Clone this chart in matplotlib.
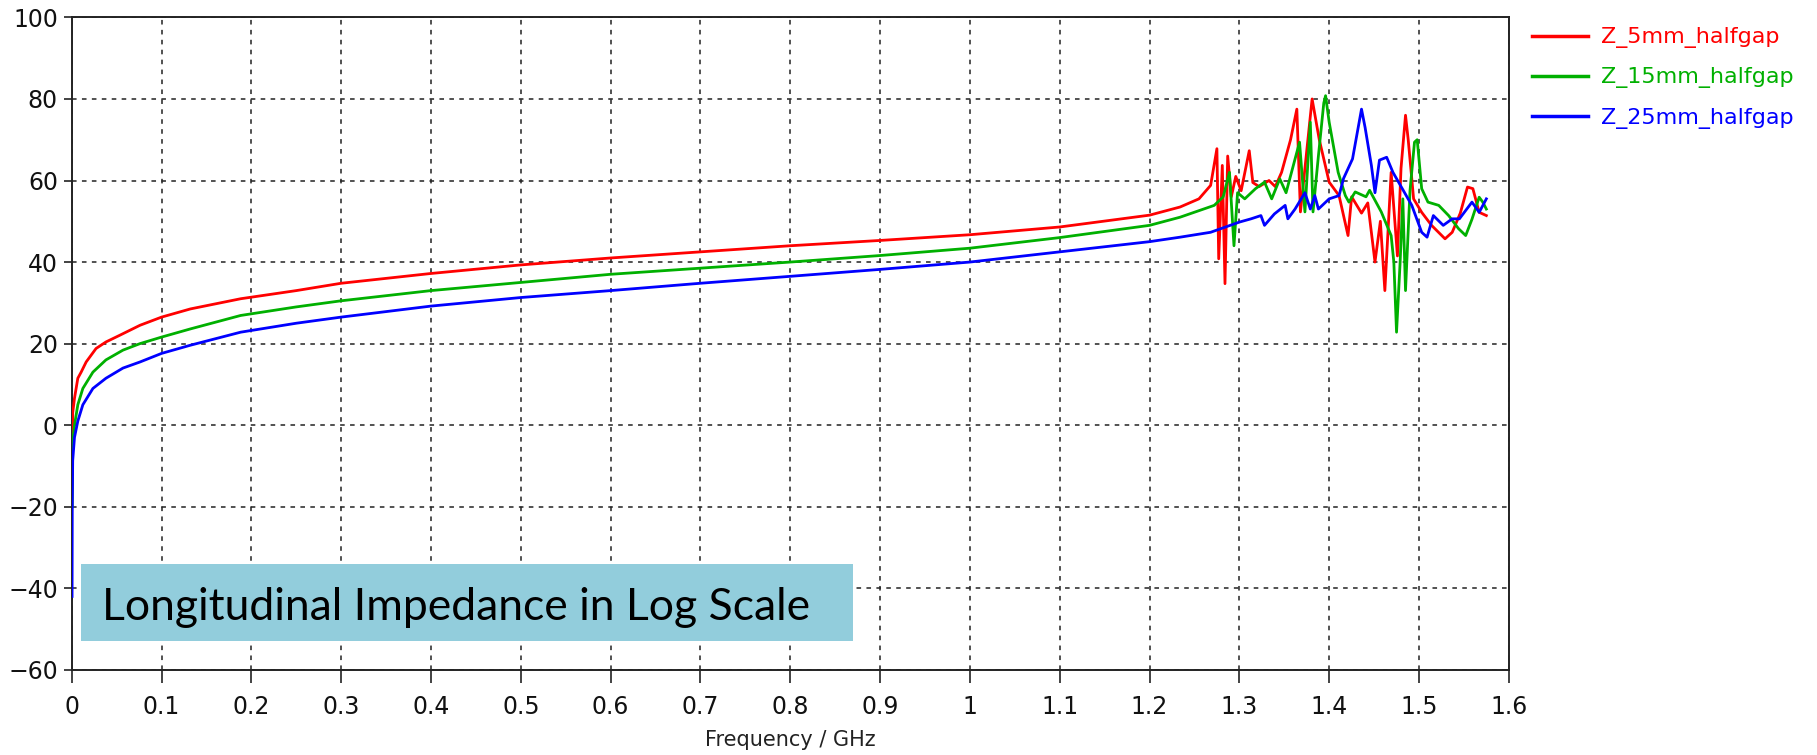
import matplotlib
matplotlib.use("Agg")
import matplotlib.pyplot as plt
from matplotlib.patches import Rectangle
from matplotlib.ticker import FormatStrFormatter

# ---------------- data ----------------
labels = ["Z_5mm_halfgap", "Z_15mm_halfgap", "Z_25mm_halfgap"]
colors = ["#ff0000", "#00b000", "#0000ff"]

f_red = [0.0004, 0.0007, 0.001, 0.003, 0.0067, 0.0104, 0.016, 0.027, 0.038, 0.053,
         0.076, 0.1, 0.132, 0.188, 0.25, 0.3, 0.4, 0.5, 0.6, 0.7, 0.8, 0.9, 1.0,
         1.1, 1.2, 1.234, 1.255, 1.268, 1.275, 1.277, 1.281, 1.284, 1.287, 1.291,
         1.296, 1.302, 1.311, 1.315, 1.322, 1.333, 1.340, 1.347, 1.357, 1.364,
         1.368, 1.381, 1.389, 1.400, 1.411, 1.421, 1.425, 1.436, 1.443, 1.451,
         1.457, 1.462, 1.469, 1.476, 1.480, 1.485, 1.488, 1.494, 1.503, 1.514,
         1.529, 1.537, 1.546, 1.554, 1.560, 1.567, 1.575]
z_red = [-12, -7, 3, 6.6, 11.5, 13, 15.5, 18.8, 20.4, 22,
         24.5, 26.5, 28.5, 31, 33, 34.8, 37.2, 39.3, 41, 42.5, 44, 45.3, 46.7,
         48.6, 51.5, 53.5, 55.5, 58.8, 67.8, 40.8, 63.7, 34.7, 66, 56,
         61, 57.5, 67.3, 59.5, 58.5, 60, 58.5, 62, 70, 77.5,
         52.3, 80, 70, 59.6, 56.3, 46.5, 56, 52, 54.5, 40,
         50, 33, 62, 41.5, 63, 76, 70, 55.5, 52.2, 49,
         45.7, 47.3, 52, 58.4, 58, 52.2, 51.4]

f_green = [0.0004, 0.0007, 0.001, 0.003, 0.0067, 0.0123, 0.0235, 0.038, 0.057, 0.076,
           0.1, 0.132, 0.188, 0.25, 0.3, 0.4, 0.5, 0.6, 0.7, 0.8, 0.9, 1.0, 1.1,
           1.2, 1.234, 1.272, 1.282, 1.289, 1.294, 1.298, 1.306, 1.318, 1.328,
           1.336, 1.345, 1.352, 1.367, 1.373, 1.379, 1.382, 1.388, 1.394, 1.396,
           1.400, 1.410, 1.418, 1.422, 1.429, 1.441, 1.445, 1.458, 1.469, 1.472,
           1.475, 1.479, 1.482, 1.485, 1.490, 1.495, 1.498, 1.503, 1.510, 1.522,
           1.533, 1.544, 1.552, 1.559, 1.567, 1.571, 1.575]
z_green = [-20, -12, -4, 0, 5, 9, 13, 16, 18.4, 20,
           21.6, 23.6, 26.9, 29, 30.5, 33, 35, 37, 38.5, 40, 41.6, 43.4, 46,
           49, 51, 53.9, 56, 62, 44, 57, 55.5, 58, 59.6,
           55.5, 60.4, 57, 69.4, 52.3, 74.3, 52.3, 66, 79, 80.8,
           74.3, 62, 56.3, 54.7, 57.2, 56, 57.6, 52.3, 46.5, 40,
           22.8, 40, 55.5, 33, 57.5, 69.4, 70, 58, 54.7, 53.9,
           51.4, 48.2, 46.5, 50.5, 55.9, 54.7, 53]

f_blue = [0.0003, 0.0005, 0.001, 0.003, 0.0067, 0.0123, 0.0235, 0.038, 0.057, 0.076,
          0.1, 0.132, 0.188, 0.25, 0.3, 0.4, 0.5, 0.6, 0.7, 0.8, 0.9, 1.0, 1.1,
          1.2, 1.234, 1.268, 1.300, 1.313, 1.324, 1.328, 1.339, 1.351, 1.354,
          1.362, 1.373, 1.379, 1.384, 1.388, 1.400, 1.411, 1.416, 1.426,
          1.436, 1.440, 1.447, 1.451, 1.456, 1.464, 1.471, 1.484, 1.492, 1.503,
          1.509, 1.516, 1.527, 1.537, 1.545, 1.559, 1.567, 1.575]
z_blue = [-42, -21, -8.7, -3, 1, 5, 9, 11.5, 14, 15.5,
          17.6, 19.6, 22.8, 25, 26.5, 29.2, 31.3, 33, 34.8, 36.5, 38.2, 40, 42.5,
          45, 46.1, 47.3, 49.8, 50.6, 51.4, 49, 51.8, 53.9, 50.6,
          53, 57, 53, 56.3, 53, 55.5, 56.3, 60.5, 65.3,
          77.5, 73, 63.7, 57, 65, 65.7, 62, 57, 53.9, 47.3,
          46.1, 51.4, 49, 50.6, 50.6, 54.7, 52.2, 55.5]

series_f = [f_red, f_green, f_blue]
series_z = [z_red, z_green, z_blue]

x_ticks = [0, 0.1, 0.2, 0.3, 0.4, 0.5, 0.6, 0.7, 0.8, 0.9, 1.0, 1.1, 1.2, 1.3, 1.4, 1.5, 1.6]
y_ticks = [-60, -40, -20, 0, 20, 40, 60, 80, 100]
x_label = "Frequency / GHz"
box_text = "Longitudinal Impedance in Log Scale"

# ---------------- figure ----------------
W, H = 1817, 755
fig = plt.figure(figsize=(W / 100, H / 100), dpi=100)
ax = fig.add_axes([71.8 / W, 1 - 669.8 / H, (1508.8 - 71.8) / W, (669.8 - 17.4) / H])

for f, z, c, lab in zip(series_f, series_z, colors, labels):
    ax.plot(f, z, color=c, lw=2.0, label=lab, zorder=3)

ax.set_xlim(0, 1.6)
ax.set_ylim(-60, 100)
ax.set_xticks(x_ticks)
ax.set_yticks(y_ticks)
ax.xaxis.set_major_formatter(FormatStrFormatter("%g"))
ax.grid(True, color="#222222", linestyle=(0, (3, 3.5)), lw=1.1)
ax.set_axisbelow(True)
for s in ax.spines.values():
    s.set_color("#222222")
    s.set_linewidth(1.4)
ax.tick_params(axis="both", direction="out", color="#222222", width=1.2,
               labelsize=17, labelcolor="#111111")
ax.tick_params(axis="x", length=9, pad=9)
ax.tick_params(axis="y", length=6, pad=4)
ax.set_xlabel(x_label, fontsize=15, color="#222222", labelpad=8)

leg = ax.legend(loc="upper left", bbox_to_anchor=(1.004, 1.012), frameon=False,
                fontsize=16, handlelength=2.5, handletextpad=0.6,
                labelspacing=0.86, borderaxespad=0.4, labelcolor="linecolor")
for line in leg.get_lines():
    line.set_linewidth(2.5)

# blue label box
fig.patches.append(Rectangle((81 / W, 1 - 641 / H), (853 - 81) / W, (641 - 564) / H,
                             transform=fig.transFigure, facecolor="#92cddc",
                             edgecolor="none", zorder=5))
fig.text(102 / W, 1 - 608 / H, box_text, fontsize=32, family="Lato",
         color="black", va="center", ha="left", zorder=6)

fig.savefig("out.png", dpi=100)
